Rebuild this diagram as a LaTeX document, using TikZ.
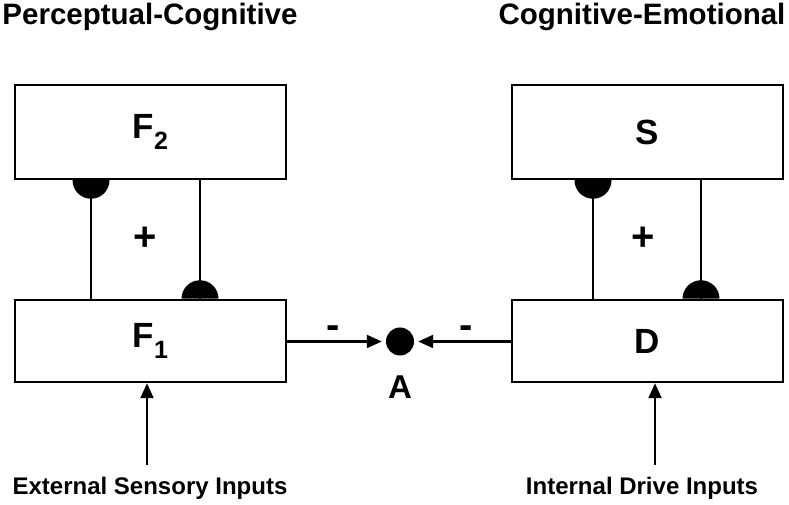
\documentclass[tikz,border=0pt]{standalone}
\usepackage{fontspec}
\setmainfont{Liberation Sans}
\usetikzlibrary{arrows.meta, positioning}

\tikzset{
  blk/.style={draw, line width=2.5pt, minimum width=271pt, inner sep=0pt},
  ttl/.style={inner sep=0pt, font=\fontsize{29.5}{30}\selectfont\bfseries},
  lbl/.style={inner sep=0pt, font=\fontsize{35}{35}\selectfont\bfseries},
  sgn/.style={inner sep=0pt, font=\fontsize{40}{40}\selectfont\bfseries},
  inp/.style={inner sep=0pt, font=\fontsize{24}{24}\selectfont\bfseries},
  con/.style={line width=2.2pt},
  arr/.style={line width=2.2pt, -{Triangle[length=15pt,width=13pt]}}
}
\newcommand{\subtwo}[1]{\raisebox{-11pt}{\fontsize{25}{25}\selectfont #1}}

\begin{document}
\begin{tikzpicture}[x=1pt,y=1pt]
  \useasboundingbox (0,0) rectangle (789,505);

  % Titles
  \node[ttl] (tl) at (150,488) {Perceptual-Cognitive};
  \node[ttl] (tr) at (642,488) {Cognitive-Emotional};

  % Boxes
  \node[blk, minimum height=94pt] (F2) at (150.5,373) {};
  \node[blk, minimum height=82pt] (F1) at (150.5,164) {};
  \node[blk, minimum height=94pt] (S) at (647.5,373) {};
  \node[blk, minimum height=82pt] (D) at (647.5,164) {};
  \node[lbl] at (F2) {F\subtwo{2}};
  \node[lbl] at (F1) {F\subtwo{1}};
  \node[lbl] at (S) {S};
  \node[lbl] at (D) {D};

  % Feedback lines between the layers
  \draw[con] ([xshift=-59.5pt]F2.south) -- ([xshift=-59.5pt]F1.north);
  \fill ([xshift=-59.5pt]F2.south) ++(18.5,0) arc (0:-180:18.5) -- cycle;
  \draw[con] ([xshift=49.5pt]F2.south) -- ([xshift=49.5pt]F1.north);
  \fill ([xshift=49.5pt]F1.north) ++(18.5,0) arc (0:180:18.5) -- cycle;
  \node[sgn] (pl) at (145,266) {+};

  \draw[con] ([xshift=-54.5pt]S.south) -- ([xshift=-54.5pt]D.north);
  \fill ([xshift=-54.5pt]S.south) ++(18.5,0) arc (0:-180:18.5) -- cycle;
  \draw[con] ([xshift=53.5pt]S.south) -- ([xshift=53.5pt]D.north);
  \fill ([xshift=53.5pt]D.north) ++(18.5,0) arc (0:180:18.5) -- cycle;
  \node[sgn] (pr) at (643,266) {+};

  % Arousal node
  \node[circle, fill, minimum size=28pt, inner sep=0pt] (A) at (400,163.5) {};
  \node[inner sep=0pt, font=\fontsize{33}{33}\selectfont\bfseries] (al) at (400,118) {A};
  \draw[arr, shorten >=4pt] (F1.east |- A) -- (A.west);
  \draw[arr, shorten >=4pt] (D.west |- A) -- (A.east);
  \node[sgn] (ml) at (333,173) {-};
  \node[sgn] (mr) at (466,173) {-};

  % Inputs
  \node[inp] (ext) at (150,17) {External Sensory Inputs};
  \node[inp] (int) at (642,17) {Internal Drive Inputs};
  \coordinate (e0) at (147,40);
  \coordinate (i0) at (655,40);
  \draw[arr] (e0) -- (e0 |- F1.south);
  \draw[arr] (i0) -- (i0 |- D.south);
\end{tikzpicture}
\end{document}
